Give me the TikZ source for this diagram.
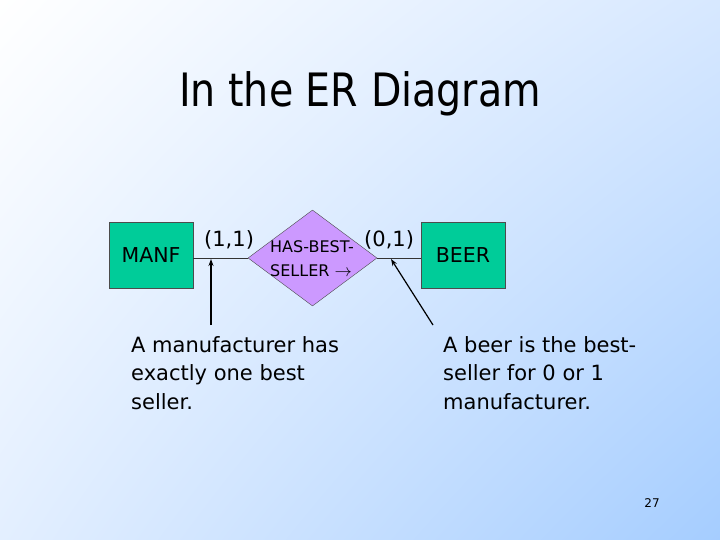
\documentclass[tikz,border=0pt]{standalone}
\usepackage{fontspec}
\setmainfont{DejaVu Sans}
\usetikzlibrary{shapes.geometric,arrows.meta,shadings}
\definecolor{entgreen}{RGB}{0,204,153}
\definecolor{relpurple}{RGB}{204,153,255}
\definecolor{bgblue}{RGB}{165,205,255}
\definecolor{bgmid}{RGB}{215,232,255}
\tikzset{
  entity/.style={draw=black!70, fill=entgreen, minimum width=84pt, minimum height=66pt, inner sep=0pt, font=\fontsize{20.5}{24}\selectfont},
  rel/.style={draw=black!70, fill=relpurple, diamond, minimum width=129pt, minimum height=96pt, inner sep=0pt},
  card/.style={font=\fontsize{21}{24}\selectfont, anchor=base west, inner sep=0pt},
  body/.style={font=\fontsize{21}{28.5}\selectfont, align=left, anchor=north west, inner sep=0pt},
  link/.style={draw=black!80, line width=0.8pt},
  pointer/.style={draw=black, line width=1.2pt, -{Stealth[length=7pt,width=5pt]}}
}
\begin{document}
\begin{tikzpicture}[x=1pt,y=-1pt]
\shade[upper left=white, upper right=bgmid, lower left=bgmid!70!white, lower right=bgblue] (0,0) rectangle (720,540);
\useasboundingbox (0,0) rectangle (720,540);
\node[inner sep=0pt] (title) at (360,94) {\scalebox{0.86}[1]{\fontsize{46}{52}\selectfont In the ER Diagram}};
\node[entity] (manf) at (151,255) {MANF};
\node[entity] (beer) at (463,255) {BEER};
\node[rel] (hbs) at (312.5,258) {};
\node[inner sep=0pt, anchor=base west, font=\fontsize{16}{24}\selectfont, align=left] (hbs1) at (270,252) {HAS-BEST-};
\node[inner sep=0pt, anchor=base west, font=\fontsize{16}{24}\selectfont] (hbs2) at (270,276) {SELLER $\rightarrow$};
\draw[link] (manf.east |- hbs.west) -- (hbs.west);
\draw[link] (hbs.east) -- (beer.west |- hbs.east);
\node[card] (c1) at (204,246) {(1,1)};
\node[card] (c2) at (364,246) {(0,1)};
\coordinate (p1s) at (211,325);
\coordinate (p1e) at (211,259);
\coordinate (p2s) at (433,325);
\coordinate (p2e) at (391,259);
\draw[pointer] (p1s) -- (p1e);
\draw[pointer] (p2s) -- (p2e);
\node[body] (t1) at (131,336) {A manufacturer has\\exactly one best\\seller.};
\node[body] (t2) at (443,336) {A beer is the best-\\seller for 0 or 1\\manufacturer.};
\node[inner sep=0pt, font=\fontsize{12}{14}\selectfont] (pg) at (652,503) {27};
\end{tikzpicture}
\end{document}
